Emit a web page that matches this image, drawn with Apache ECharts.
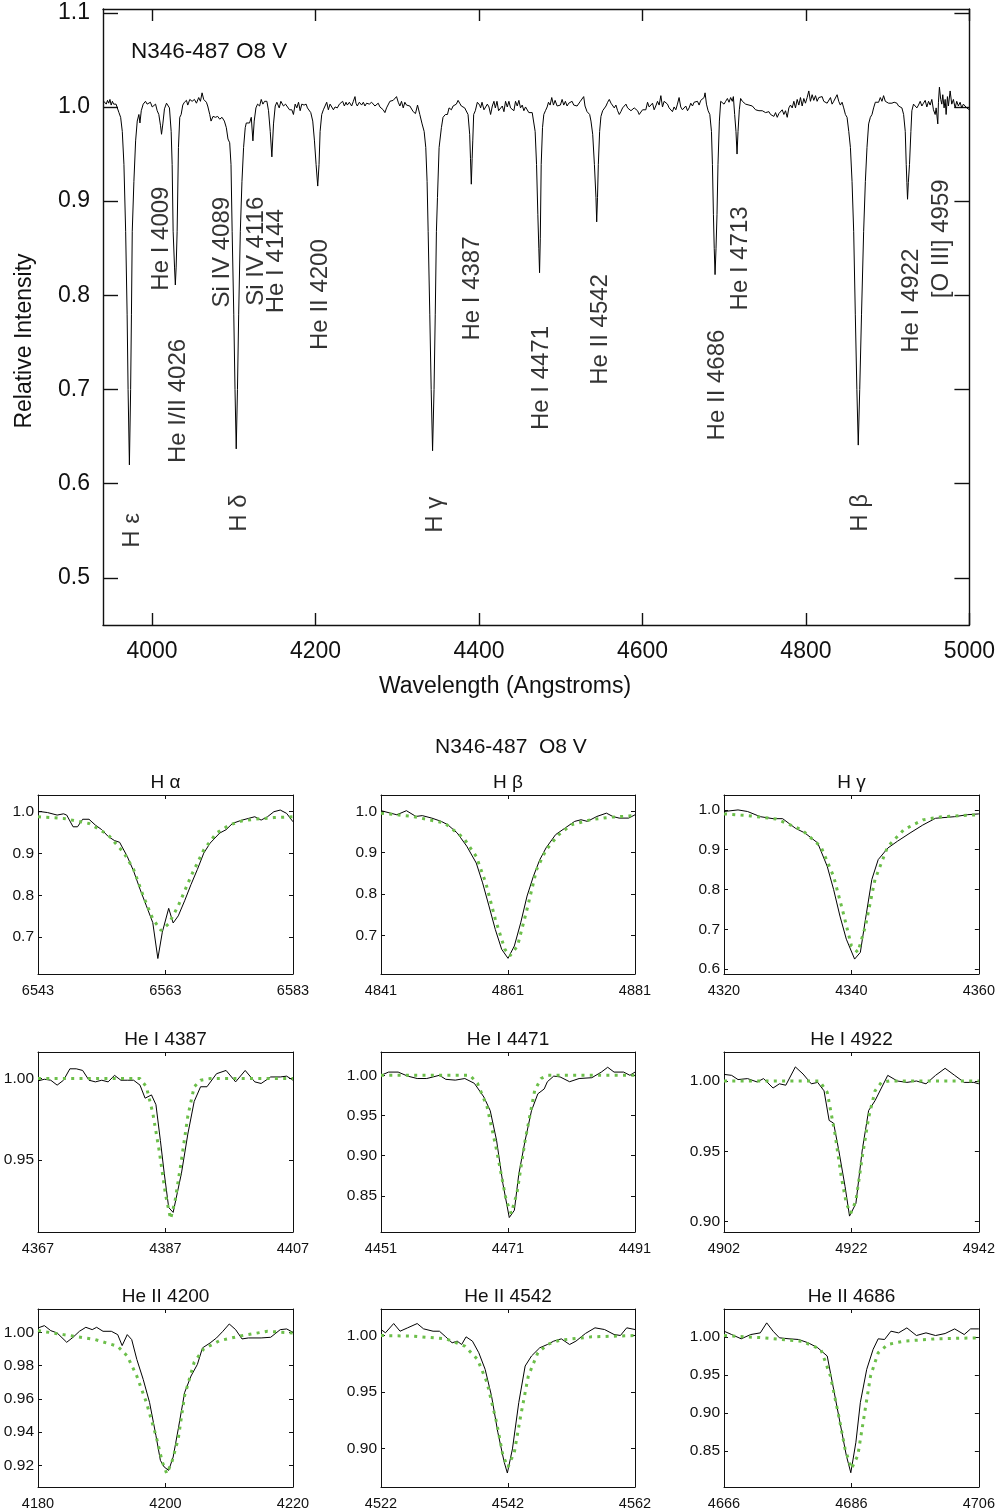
<!DOCTYPE html>
<html><head><meta charset="utf-8">
<script src="https://cdn.jsdelivr.net/npm/echarts@6/dist/echarts.min.js"></script>
<style>html,body{margin:0;padding:0;background:#fff}#c{width:998px;height:1511px}</style>
</head><body><div id="c"></div>
<script>
// ---------- DATA ----------
const mainTitle = 'N346-487 O8 V';
const panelsTitle = 'N346-487  O8 V';
const mainXName = 'Wavelength (Angstroms)';
const mainYName = 'Relative Intensity';
const mainXRange = [3940, 5000];
const mainYRange = [0.45, 1.104];
const mainXTicks = [4000, 4200, 4400, 4600, 4800, 5000];
const mainYTicks = [0.5, 0.6, 0.7, 0.8, 0.9, 1.0, 1.1];

const mainSpectrum = [
[3941,1.006],[3942.5,1.008],[3944,1.003],[3945.5,1.007],[3947,1.004],[3948.5,1.008],[3950,1.002],[3951.5,1.006],[3953,1.003],[3954.5,1.005],[3956,1.003],[3957.5,0.999],[3959.5,0.994],[3961.6,0.989],[3963.6,0.974],[3965.6,0.939],[3967.7,0.868],[3969.5,0.78],[3970.7,0.70],[3972.3,0.62],[3973.8,0.70],[3974.8,0.78],[3975.8,0.868],[3977.8,0.921],[3979.9,0.964],[3981.9,0.985],[3983.9,0.992],[3985.2,0.983],[3986.8,0.996],[3989.2,1.003],[3992,1.006],[3994,1.003],[3996.1,1.001],[3998,1.005],[4000.2,1.000],[4002.2,1.002],[4004.3,1.003],[4006.3,0.996],[4008.3,0.992],[4010.4,0.980],[4011.6,0.971],[4013.2,0.982],[4015.2,0.998],[4017.7,1.004],[4019.7,1.005],[4021.3,0.999],[4023.4,0.974],[4024.6,0.939],[4025.8,0.868],[4027.5,0.83],[4028.5,0.811],[4029.5,0.83],[4030.7,0.868],[4032.3,0.957],[4033.9,0.989],[4035.6,0.992],[4037.6,1.002],[4039.6,1.005],[4042.1,1.007],[4043.7,1.002],[4046.2,1.008],[4049,1.006],[4051.9,1.008],[4054.3,1.004],[4057.1,1.010],[4059.2,1.006],[4061.2,1.015],[4063.2,1.008],[4066.5,1.005],[4068.1,1.001],[4070.6,0.992],[4072.2,0.985],[4074.6,0.990],[4077.5,0.989],[4080.3,0.990],[4082.8,0.987],[4085.6,0.989],[4088.5,0.985],[4090.9,0.978],[4092.9,0.966],[4095,0.962],[4096.6,0.939],[4098,0.868],[4100,0.78],[4101.5,0.70],[4103,0.637],[4104.5,0.70],[4106,0.78],[4108,0.868],[4110,0.921],[4112,0.957],[4114,0.978],[4115.3,0.983],[4117.3,0.982],[4119.3,0.983],[4121.4,0.989],[4123.4,0.964],[4125,0.985],[4127.1,0.999],[4129.1,1.003],[4131.6,1.001],[4133.6,1.008],[4135.6,1.003],[4137.7,1.006],[4140.5,1.006],[4142.5,0.996],[4144.6,0.974],[4146.6,0.947],[4148.6,0.982],[4150.7,1.001],[4152.7,1.005],[4155.6,0.999],[4157.6,1.006],[4160.8,1.001],[4163.3,1.003],[4165.7,1.005],[4168.2,0.997],[4171,0.997],[4173,0.992],[4175.1,1.003],[4177.1,0.999],[4179.2,1.005],[4181.2,0.996],[4183.2,1.003],[4186,1.002],[4188.5,1.003],[4190.1,0.999],[4192.2,1.001],[4194.2,0.994],[4196.6,0.985],[4198.7,0.964],[4200.7,0.939],[4202.7,0.916],[4204.3,0.939],[4205.6,0.974],[4207.6,0.992],[4209.6,0.997],[4211.7,0.999],[4213.7,1.005],[4215.7,0.997],[4217.8,1.003],[4219.8,1.001],[4221.9,0.997],[4223.9,1.0],[4226.7,0.999],[4229.2,1.003],[4231.2,1.001],[4233.2,1.006],[4235.3,1.001],[4237.3,1.005],[4238.9,1.002],[4241.4,1.005],[4244.2,1.001],[4246.3,1.006],[4248.3,1.011],[4249.5,1.004],[4251.1,1.001],[4253.6,1.005],[4256.4,1.002],[4258.5,1.005],[4260.5,1.001],[4262.5,1.004],[4265.8,1.003],[4268.6,1.005],[4270.6,1.006],[4272.7,1.001],[4274.7,0.999],[4276.7,1.004],[4278.8,1.0],[4280.8,1.002],[4282.8,0.997],[4284.9,0.994],[4286.9,0.999],[4288.9,1.001],[4291,1.006],[4293,1.005],[4295,1.007],
[4297.1,1.008],[4299.1,1.011],[4301.2,1.005],[4303.2,1.001],[4305.2,1.006],[4307.3,0.999],[4309.3,1.005],[4311.3,1.002],[4313.4,1.003],[4315.4,1.001],[4317.4,0.999],[4319.5,0.995],[4322.3,0.993],[4324.8,1.002],[4327.6,0.992],[4330.4,0.982],[4332.9,0.974],[4334.9,0.957],[4336.5,0.921],[4337.8,0.868],[4339.8,0.78],[4341.5,0.70],[4343.2,0.635],[4345,0.70],[4346.5,0.78],[4347.9,0.868],[4349.2,0.904],[4351.2,0.957],[4354,0.978],[4356,0.989],[4358.9,0.992],[4361.4,0.992],[4363.4,0.999],[4366.2,0.997],[4368.3,1.001],[4370.3,0.999],[4372.3,1.003],[4374.4,1.007],[4376.4,1.004],[4378.4,1.001],[4380.5,1.001],[4382.5,0.999],[4384.5,0.999],[4386.6,0.992],[4388.6,0.971],[4389.6,0.945],[4390.6,0.918],[4391.6,0.945],[4392.4,0.964],[4393.5,0.992],[4395.5,0.996],[4398,1.005],[4400.8,1.002],[4402,0.999],[4403.7,1.005],[4406.1,0.997],[4407.7,0.999],[4410.2,1.003],[4412.2,1.0],[4414.2,0.992],[4416.3,1.001],[4418.3,1.006],[4420,0.999],[4422,1.006],[4424,0.996],[4426.4,0.996],[4428.5,1.001],[4430.5,0.995],[4432.5,1.006],[4434.6,1.0],[4436.6,1.006],[4438.6,0.999],[4440.7,0.997],[4442.7,0.996],[4444.7,1.006],[4446.8,1.001],[4448.8,1.007],[4450.8,0.999],[4452.9,1.002],[4454.9,0.996],[4456.9,1.0],[4459,0.999],[4461,0.994],[4463,0.996],[4465.1,0.994],[4467.1,0.992],[4468.7,0.974],[4470.4,0.939],[4472,0.886],[4473.2,0.85],[4474.1,0.824],[4475,0.86],[4476.1,0.939],[4477.7,0.978],[4479.3,0.992],[4481.3,0.996],[4483.4,1.0],[4485,1.005],[4487,1.002],[4489,1.01],[4491.1,1.002],[4493.1,1.007],[4495.6,1.001],[4497.6,1.003],[4499.6,1.002],[4501.7,1.008],[4503.7,1.002],[4505.7,1.006],[4507.8,1.001],[4509.8,1.004],[4511.8,1.002],[4513.9,1.006],[4515.9,1.002],[4517.9,1.004],[4520,1.001],[4522,1.002],[4524,1.006],[4526.1,1.008],[4528.1,1.011],[4529.7,1.001],[4532.2,0.995],[4533.8,0.996],[4535.4,0.992],[4537,0.985],[4539.1,0.971],[4541.2,0.939],[4543.1,0.904],[4544,0.878],[4545,0.904],[4546,0.939],[4547.6,0.974],[4549.2,0.99],[4551.3,0.996],[4553.3,0.994],[4555.4,1.001],[4557.4,1.005],[4559.4,1.008],[4561.5,1.004],[4563.5,1.005],[4565.5,0.999],[4567.5,1.002],[4569.6,0.996],[4571.6,0.992],[4573.6,0.995],[4575.7,0.999],[4577.7,0.997],[4579.8,1.003],[4581.8,0.999],[4583.8,1.001],[4585.9,0.996],[4587.9,0.997],[4589.9,0.999],[4592,1.001],[4594,0.996],[4596,0.992],[4598,0.994],[4600.1,0.997],[4602.1,0.999],[4604.1,0.997],[4606.2,1.005],[4608.2,1.0],[4610.2,1.002],[4612.3,1.004],[4614.3,0.997],[4616.3,1.001],[4618.4,1.006],[4620.4,1.002],[4622.5,1.012],[4624.5,1.0],[4626.5,1.006],[4628.5,1.004],[4630.6,1.003],[4632.6,0.999],[4634.6,0.997],[4636.7,0.995],[4638.7,1.0],[4640.8,0.997],[4642.8,1.003],[4644.8,1.01],[4646.8,1.0],[4648.9,0.997],
[4651,0.997],[4653,1.001],[4655.1,0.996],[4657.1,0.999],[4659.1,1.004],[4661.2,1.001],[4663.2,1.005],[4665.2,1.003],[4667.3,1.006],[4669.3,1.002],[4671.3,1.007],[4673.4,1.006],[4675.4,1.01],[4676.6,1.015],[4678.3,1.003],[4680.3,0.996],[4682.4,0.992],[4684.4,0.974],[4685.6,0.939],[4686.8,0.886],[4687.8,0.85],[4688.8,0.822],[4690,0.85],[4691.2,0.886],[4692.4,0.939],[4694.1,0.985],[4695.7,1.006],[4697.8,1.008],[4699.8,1.003],[4701.8,1.006],[4703.9,1.009],[4705.9,1.005],[4707.9,1.01],[4709.9,1.006],[4711.2,1.011],[4712.8,0.992],[4714.4,0.974],[4715.7,0.95],[4716.9,0.974],[4718.5,0.997],[4720.1,1.009],[4722.2,1.006],[4724.2,1.008],[4726.2,1.003],[4728.3,1.005],[4730.3,1.002],[4732.3,1.004],[4734.4,1.001],[4736.4,1.002],[4738.4,0.997],[4740.5,0.999],[4742.5,0.996],[4744.5,0.998],[4746.6,0.996],[4748.6,0.996],[4750.6,0.994],[4752.7,0.996],[4754.7,0.995],[4756.7,0.992],[4758.8,0.994],[4760.8,0.99],[4762.8,0.994],[4764.9,0.989],[4766.9,0.993],[4768.9,0.992],[4771,0.997],[4773,0.992],[4775,0.996],[4777.1,0.989],[4779.1,0.999],[4781.1,1.002],[4783.2,0.999],[4785.2,1.006],[4787.2,0.999],[4789.3,1.008],[4791.3,1.002],[4793.3,1.01],[4795.4,1.001],[4797.4,1.009],[4799.4,1.004],[4801.5,1.01],[4803.5,1.017],[4805.5,1.006],[4807.6,1.013],[4809.6,1.007],[4811.7,1.012],[4813.7,1.006],[4815.7,1.01],[4817.7,1.009],[4819.8,1.011],[4821.8,1.006],[4823.9,1.008],[4825.9,1.004],[4827.9,1.006],[4830,1.01],[4832,1.003],[4834,1.006],[4836,1.007],[4838.1,1.013],[4840.1,1.006],[4842.1,1.002],[4844.2,1.005],[4846.2,0.999],[4848.3,0.992],[4850.3,0.989],[4852.4,0.974],[4854.4,0.957],[4856.4,0.921],[4858.4,0.868],[4860.4,0.78],[4862.3,0.70],[4864,0.641],[4865.8,0.70],[4868,0.78],[4870.6,0.868],[4872.7,0.921],[4874.7,0.957],[4876.7,0.982],[4878.8,0.989],[4880.8,0.992],[4882.8,0.999],[4884.9,1.005],[4886.9,1.006],[4888.9,1.005],[4891,1.01],[4893,1.006],[4895,1.012],[4897.1,1.006],[4899.1,1.008],[4901.1,1.004],[4903.2,1.002],[4905.2,1.004],[4907.9,1.005],[4911.3,1.004],[4913.3,1.001],[4915.4,1.003],[4917.4,0.999],[4919.5,0.992],[4921.5,0.974],[4922.7,0.939],[4923.5,0.92],[4924.3,0.902],[4925.3,0.92],[4926.7,0.939],[4928.4,0.974],[4929.6,0.996],[4931.6,1.003],[4933.7,1.002],[4935.7,0.999],[4937.7,1.002],[4939.8,1.006],[4941.8,1.001],[4943.8,1.004],[4945.9,1.007],[4947.9,1.0],[4950,1.006],[4952,1.002],[4954,1.008],[4956,0.997],[4958.1,0.992],[4959.3,0.999],[4961.3,0.982],[4962.1,1.005],[4963.3,1.021],[4964.9,1.008],[4966.2,1.003],[4967.4,1.013],[4969,0.999],[4970.3,1.008],[4971.5,0.992],[4973.1,1.011],[4974.3,1.001],[4976.4,1.017],[4978.4,1.003],[4980.4,1.008],[4982.5,0.999],[4984.5,1.006],[4986.5,1.001],[4988.6,1.005],[4990.6,0.999],[4992.6,1.003],[4994.7,1.001],[4996.7,0.999],[4998.7,0.997],[5000,0.997]
];

const lineLabelText  = ['H ε','He I 4009','He I/II 4026','Si IV 4089','H δ','Si IV 4116','He I 4144','He II 4200','H γ','He I 4387','He I 4471','He II 4542','He II 4686','He I 4713','H β','He I 4922','[O III] 4959'];
const lineLabelWave  = [3975.6,4011.6,4032.3,4086,4106.8,4127.5,4152,4205.6,4347.2,4392.3,4476.5,4548.5,4691.3,4719.3,4867,4929.2,4965.8];
const lineLabelLevel = [0.532,0.805,0.622,0.787,0.549,0.789,0.781,0.742,0.548,0.752,0.657,0.705,0.646,0.784,0.549,0.739,0.797];

const panelTitles  = ['H α','H β','H γ','He I 4387','He I 4471','He I 4922','He II 4200','He II 4542','He II 4686'];
const panelCenters = [6563,4861,4340,4387,4471,4922,4200,4542,4686];
const panelYRanges = [[0.612,1.04],[0.606,1.04],[0.5875,1.0375],[0.906,1.0163],[0.805,1.029],[0.8927,1.0206],[0.907,1.014],[0.8656,1.0235],[0.803,1.0365]];
const panelYTicks  = [[0.7,0.8,0.9,1.0],[0.7,0.8,0.9,1.0],[0.6,0.7,0.8,0.9,1.0],[0.95,1.00],[0.85,0.90,0.95,1.00],[0.90,0.95,1.00],[0.92,0.94,0.96,0.98,1.00],[0.90,0.95,1.00],[0.85,0.90,0.95,1.00]];
const panelYDigits = [1,1,1,2,2,2,2,2,2];

const obsHa = [[6543,1.0],[6543.5,1.0],[6544.5,0.998],[6546,0.992],[6547,0.995],[6547.5,0.992],[6548.5,0.964],[6549.2,0.964],[6550,0.982],[6551,0.982],[6552,0.968],[6553,0.957],[6554,0.941],[6555,0.931],[6555.8,0.927],[6557,0.893],[6558,0.858],[6559,0.815],[6560,0.775],[6561,0.735],[6561.8,0.649],[6562.5,0.712],[6563.5,0.769],[6564.2,0.734],[6565,0.751],[6566,0.787],[6567,0.826],[6568,0.862],[6569,0.901],[6570,0.925],[6571.5,0.949],[6572.5,0.957],[6573.5,0.972],[6574.8,0.979],[6576,0.984],[6577,0.988],[6578,0.980],[6579,0.988],[6580,1.0],[6581,1.004],[6582,0.996],[6583,0.976]];
const modHa = [[6543,0.988],[6547,0.984],[6551,0.972],[6554,0.945],[6556.5,0.901],[6558,0.862],[6559.5,0.799],[6561,0.744],[6562.3,0.716],[6563.5,0.732],[6565,0.775],[6567,0.846],[6569,0.909],[6571,0.949],[6573,0.968],[6575,0.978],[6577,0.982],[6580,0.986],[6583,0.988]];
const obsHb = [[4841,1.002],[4842.5,0.996],[4843.5,0.992],[4845,1.002],[4846.5,0.988],[4847.5,0.990],[4849,0.984],[4850.5,0.976],[4851.5,0.968],[4853,0.948],[4854.5,0.916],[4856,0.875],[4857,0.827],[4858,0.771],[4859,0.714],[4860,0.666],[4861,0.644],[4862,0.674],[4863,0.730],[4864,0.795],[4865,0.843],[4866,0.883],[4867,0.912],[4868.5,0.944],[4870,0.960],[4871.5,0.976],[4872.5,0.980],[4873.5,0.976],[4875,0.988],[4876.5,0.996],[4877.5,0.988],[4878.5,0.984],[4880,0.984],[4881,0.992]];
const modHb = [[4841,0.996],[4846,0.988],[4851,0.972],[4854,0.936],[4856,0.891],[4857.5,0.827],[4859,0.739],[4860.5,0.666],[4861.3,0.65],[4862.5,0.674],[4864,0.763],[4865.5,0.859],[4867,0.907],[4869,0.944],[4871,0.968],[4874,0.980],[4877,0.986],[4881,0.990]];
const obsHg = [[4320,0.996],[4322.2,1.0],[4323.7,0.996],[4325.7,0.983],[4327.7,0.978],[4329.2,0.978],[4331.2,0.954],[4332.7,0.942],[4334.7,0.917],[4336.2,0.858],[4337.2,0.80],[4338.2,0.733],[4339.2,0.675],[4340.5,0.625],[4341.4,0.642],[4342.2,0.725],[4343.2,0.825],[4344.2,0.875],[4345.7,0.904],[4347.2,0.921],[4349.2,0.942],[4351.2,0.962],[4353.2,0.979],[4356.2,0.983],[4358.2,0.988],[4360,0.99]];
const modHg = [[4320,0.99],[4324.2,0.985],[4328.2,0.977],[4332.2,0.95],[4335.2,0.908],[4337.2,0.833],[4338.7,0.742],[4340,0.658],[4341,0.642],[4342.2,0.708],[4343.7,0.825],[4345.7,0.908],[4348.2,0.95],[4351.2,0.975],[4354.2,0.983],[4360,0.988]];
const obsHe4387 = [[4367,0.9986],[4368,0.9996],[4369,0.999],[4370,0.996],[4371,0.999],[4372,1.006],[4373,1.006],[4374,1.005],[4375,0.999],[4376,0.998],[4377,0.999],[4378,0.998],[4379,1.002],[4380,0.999],[4381,0.999],[4382,0.999],[4383,0.996],[4383.8,0.988],[4384.8,0.990],[4385.5,0.984],[4386.2,0.962],[4386.8,0.942],[4387.5,0.921],[4388.2,0.918],[4389.5,0.942],[4390.5,0.966],[4391.5,0.986],[4392.5,0.995],[4393.5,0.995],[4395,1.003],[4396.5,1.005],[4398,0.998],[4399.5,1.005],[4401,0.998],[4402,0.997],[4403.5,1.001],[4405,1.001],[4406,1.0015],[4407,0.999]];
const modHe4387 = [[4367,1.0],[4383,1.0],[4384,0.995],[4385,0.979],[4386,0.956],[4387,0.929],[4387.8,0.914],[4388.5,0.925],[4389.5,0.95],[4390.5,0.977],[4391.5,0.995],[4392.5,0.999],[4394,1.0],[4407,1.0]];
const obsHe4471 = [[4451,1.000],[4452.2,1.004],[4453.7,1.004],[4455.2,0.999],[4456.7,0.996],[4458.2,0.996],[4460.2,1.0],[4461.2,0.995],[4462.7,0.994],[4464.2,0.996],[4465.7,0.99],[4467.2,0.973],[4468.2,0.956],[4469.2,0.919],[4470.2,0.865],[4471.2,0.823],[4472,0.832],[4472.7,0.877],[4473.7,0.919],[4474.7,0.956],[4475.7,0.977],[4476.7,0.983],[4477.2,0.992],[4478.2,0.999],[4479.2,0.998],[4480.7,0.992],[4482.2,0.996],[4484.2,0.997],[4485.7,1.004],[4486.7,1.010],[4487.7,1.004],[4489.2,1.004],[4490.2,1.0],[4491,1.004]];
const modHe4471 = [[4451,1.0],[4465,1.0],[4466.2,0.99],[4467.7,0.961],[4469.2,0.907],[4470.7,0.845],[4471.5,0.828],[4472.4,0.853],[4473.7,0.919],[4475.2,0.981],[4476.2,0.996],[4477.2,1.0],[4491,1.0]];
const obsHe4922 = [[4902,1.0047],[4903.2,1.004],[4904.2,1.001],[4905.7,1.0017],[4907.2,0.9993],[4908.2,1.0017],[4909.7,0.995],[4910.7,0.998],[4911.7,0.997],[4913.2,1.010],[4914.4,1.005],[4915.7,0.998],[4916.7,0.999],[4917.7,0.993],[4918.5,0.972],[4919.2,0.970],[4920,0.951],[4921,0.925],[4921.7,0.904],[4922.7,0.913],[4923.7,0.951],[4924.7,0.979],[4925.7,0.986],[4926.7,0.995],[4927.7,1.004],[4929.2,1.0],[4930.7,0.999],[4932.2,1.0],[4933.7,0.998],[4935.2,1.004],[4936.7,1.009],[4938.2,1.004],[4939.7,0.999],[4941.2,0.999],[4942,0.998]];
const modHe4922 = [[4902,1.0],[4917,1.0],[4918.2,0.992],[4919.4,0.963],[4920.4,0.932],[4921.2,0.913],[4921.9,0.906],[4922.7,0.915],[4923.7,0.946],[4924.7,0.974],[4925.7,0.993],[4926.7,0.999],[4928,1.0],[4942,1.0]];
const obsHeII4200 = [[4180,1.0026],[4181,1.004],[4182,1.001],[4183,0.9996],[4184.5,0.994],[4185.5,0.997],[4186.5,1.0006],[4187.5,1.003],[4188.5,1.0016],[4189.2,1.003],[4190.2,1.0006],[4191.5,1.0006],[4192.5,0.9986],[4193.2,0.992],[4194,0.9986],[4194.7,0.9956],[4195.5,0.9837],[4196.5,0.9717],[4197.5,0.9578],[4198.5,0.9379],[4199.2,0.923],[4199.8,0.919],[4200.5,0.917],[4201.2,0.925],[4202,0.9419],[4203,0.9638],[4204,0.9737],[4205,0.9807],[4205.8,0.9906],[4207,0.9936],[4208,0.9966],[4209,1.0006],[4210,1.005],[4211,1.0016],[4212,0.996],[4213,0.9966],[4215,0.9966],[4216.5,0.997],[4218,1.0016],[4219,1.002],[4220,1.0]];
const modHeII4200 = [[4180,1.001],[4184,0.9986],[4189,0.9956],[4192.5,0.9916],[4194,0.9857],[4195.5,0.9737],[4197,0.9578],[4198.5,0.9379],[4199.5,0.922],[4200.2,0.915],[4201,0.922],[4202,0.936],[4203,0.962],[4204.5,0.982],[4206,0.99],[4208.5,0.995],[4212,0.998],[4216,1.0006],[4220,0.9996]];
const obsHeII4542 = [[4522,1.0053],[4522.7,1.0024],[4524,1.0106],[4525,1.0038],[4526.2,1.0068],[4527.7,1.0106],[4528.7,1.0059],[4530.2,1.0038],[4531.2,1.0038],[4532.2,0.9988],[4533.2,0.9935],[4534,0.995],[4534.7,0.992],[4535.4,0.9988],[4536.4,0.995],[4537.4,0.9847],[4538.4,0.97],[4539.4,0.9465],[4540.4,0.9141],[4541.4,0.8876],[4541.9,0.878],[4542.7,0.8994],[4543.7,0.9406],[4544.7,0.9729],[4545.7,0.9818],[4547,0.9891],[4548.2,0.992],[4549.2,0.995],[4550.4,0.997],[4551.7,0.992],[4552.7,0.995],[4554.2,1.0018],[4555.7,1.0068],[4557.2,1.0053],[4558.7,1.0009],[4559.7,1.0],[4560.7,1.0068],[4562,1.0053]];
const modHeII4542 = [[4522,1.0],[4527.2,0.9994],[4532.2,0.997],[4535.2,0.9906],[4537.2,0.9788],[4538.7,0.9582],[4540.2,0.9229],[4541.2,0.8935],[4542,0.8832],[4543,0.8965],[4544,0.9288],[4545.2,0.9641],[4546.7,0.9847],[4548.2,0.992],[4550.2,0.9959],[4555.2,0.9988],[4562,1.0]];
const obsHeII4686 = [[4666,1.0074],[4667.2,1.003],[4668.7,0.9974],[4670.2,1.003],[4671.7,1.0052],[4672.7,1.0183],[4673.7,1.0074],[4674.7,0.9987],[4676.2,0.9974],[4677.7,0.9965],[4679.2,0.9922],[4680.7,0.9857],[4682.2,0.9748],[4683.2,0.9313],[4684.2,0.8878],[4685.2,0.8443],[4685.9,0.8217],[4686.7,0.8617],[4687.4,0.9139],[4688.4,0.9574],[4689.4,0.9835],[4690.2,0.9974],[4691.2,0.9965],[4692.2,1.0074],[4693.4,1.0052],[4694.7,1.0117],[4696.2,1.0017],[4697.7,1.0052],[4699.2,1.0017],[4700.7,1.0043],[4702.2,1.0104],[4703.7,1.003],[4704.7,1.0104],[4706,1.0104]];
const modHeII4686 = [[4666,1.0017],[4672.2,0.9987],[4678.2,0.9943],[4681.2,0.9835],[4682.7,0.9487],[4684,0.8965],[4685,0.853],[4686,0.827],[4687,0.8443],[4688,0.8965],[4689,0.9487],[4690.2,0.9791],[4691.7,0.99],[4694.2,0.9943],[4699.2,0.9974],[4706,0.9987]];

const panelObs = [obsHa, obsHb, obsHg, obsHe4387, obsHe4471, obsHe4922, obsHeII4200, obsHeII4542, obsHeII4686];
const panelMod = [modHa, modHb, modHg, modHe4387, modHe4471, modHe4922, modHeII4200, modHeII4542, modHeII4686];

// ---------- LAYOUT / STYLE ----------
const FONT = '"Liberation Sans", Arial, Helvetica, sans-serif';
const INK = '#111';
const GREEN = '#6cbf4a';
const colLeft = [38, 381, 724], colW = [255, 254, 255];
const rowTop = [795, 1052, 1309], rowH = [179, 180, 179];

const grids = [{left: 103, top: 9, width: 868, height: 616}];
const xAxes = [], yAxes = [], series = [], graphics = [];

function addAxes(gi, xr, xt, yr, yt, fmtX, fmtY, cfg) {
  const line = {show: true, onZero: false, lineStyle: {color: INK, width: cfg.lw}};
  const tickX = {show: true, inside: true, length: cfg.tx, customValues: xt, lineStyle: {color: INK, width: cfg.lw}};
  const tickY = {show: true, inside: true, length: cfg.ty, customValues: yt, lineStyle: {color: INK, width: cfg.lw}};
  xAxes.push({type: 'value', gridIndex: gi, position: 'bottom', min: xr[0], max: xr[1], axisLine: line, axisTick: tickX,
    axisLabel: {customValues: xt, margin: cfg.mx, formatter: fmtX, showMinLabel: true, showMaxLabel: true, hideOverlap: false,
      fontFamily: FONT, fontSize: cfg.fsx, color: INK}, splitLine: {show: false}});
  xAxes.push({type: 'value', gridIndex: gi, position: 'top', min: xr[0], max: xr[1], axisLine: line, axisTick: tickX,
    axisLabel: {show: false}, splitLine: {show: false}});
  yAxes.push({type: 'value', gridIndex: gi, position: 'left', min: yr[0], max: yr[1], axisLine: line, axisTick: tickY,
    axisLabel: {customValues: yt, margin: cfg.my, formatter: fmtY, showMinLabel: true, showMaxLabel: true, hideOverlap: false,
      fontFamily: FONT, fontSize: cfg.fsy, color: INK}, splitLine: {show: false}});
  yAxes.push({type: 'value', gridIndex: gi, position: 'right', min: yr[0], max: yr[1], axisLine: line, axisTick: tickY,
    axisLabel: {show: false}, splitLine: {show: false}});
  return xAxes.length - 2;
}

// main chart
addAxes(0, mainXRange, mainXTicks, mainYRange, mainYTicks, v => String(Math.round(v)), v => v.toFixed(1),
  {lw: 1.4, tx: 12, ty: 15, fsx: 23, fsy: 23, mx: 15, my: 13});
series.push({type: 'line', xAxisIndex: 0, yAxisIndex: 0, data: mainSpectrum, showSymbol: false, symbol: 'none',
  lineStyle: {color: '#000', width: 1}, silent: true, z: 3});
series.push({type: 'scatter', xAxisIndex: 0, yAxisIndex: 0, symbolSize: 0, silent: true, z: 4,
  data: lineLabelText.map((t, i) => ({name: t, value: [lineLabelWave[i], lineLabelLevel[i]]})),
  label: {show: true, formatter: '{b}', rotate: 90, position: [0, 0], align: 'left', verticalAlign: 'middle',
    fontFamily: FONT, fontSize: 24, color: '#000'}});

graphics.push({type: 'text', left: 131, top: 40, style: {text: mainTitle, fontFamily: FONT, fontSize: 22.5, fill: INK}});
graphics.push({type: 'text', x: 505, y: 687, style: {text: mainXName, fontFamily: FONT, fontSize: 23, fill: INK, textAlign: 'center', textVerticalAlign: 'middle'}});
graphics.push({type: 'text', x: 25, y: 341, rotation: Math.PI / 2, style: {text: mainYName, fontFamily: FONT, fontSize: 23, fill: INK, textAlign: 'center', textVerticalAlign: 'middle'}});
graphics.push({type: 'text', x: 511, y: 747, style: {text: panelsTitle, fontFamily: FONT, fontSize: 21, fill: INK, textAlign: 'center', textVerticalAlign: 'middle'}});

// panels
for (let k = 0; k < 9; k++) {
  const r = Math.floor(k / 3), c = k % 3;
  grids.push({left: colLeft[c], top: rowTop[r], width: colW[c], height: rowH[r]});
  const gi = grids.length - 1;
  const cen = panelCenters[k];
  const d = panelYDigits[k];
  const ai = addAxes(gi, [cen - 20, cen + 20], [cen - 20, cen, cen + 20], panelYRanges[k], panelYTicks[k],
    v => String(Math.round(v)), v => v.toFixed(d), {lw: 1, tx: 4, ty: 4, fsx: 14.5, fsy: 15.5, mx: 9, my: 4});
  series.push({type: 'line', xAxisIndex: ai, yAxisIndex: ai, data: panelObs[k], showSymbol: false, symbol: 'none',
    lineStyle: {color: '#000', width: 1}, silent: true, z: 3});
  series.push({type: 'line', xAxisIndex: ai, yAxisIndex: ai, data: panelMod[k], showSymbol: false, symbol: 'none',
    lineStyle: {color: GREEN, width: 3, type: [3, 5.3]}, silent: true, z: 4});
  graphics.push({type: 'text', x: colLeft[c] + colW[c] / 2, y: rowTop[r] - 12,
    style: {text: panelTitles[k], fontFamily: FONT, fontSize: 19, fill: INK, textAlign: 'center', textVerticalAlign: 'middle'}});
}

const chart = echarts.init(document.getElementById('c'), null, {renderer: 'canvas'});
chart.setOption({
  animation: false,
  backgroundColor: '#fff',
  grid: grids,
  xAxis: xAxes,
  yAxis: yAxes,
  series: series,
  graphic: graphics
});
</script></body></html>
